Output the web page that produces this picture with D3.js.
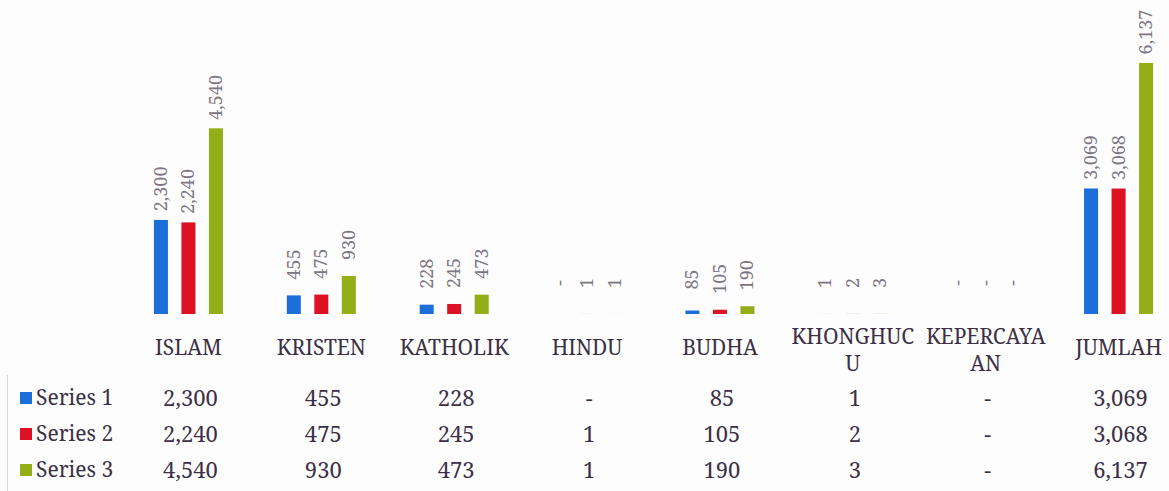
<!DOCTYPE html>
<html><head><meta charset="utf-8">
<script src="https://cdn.jsdelivr.net/npm/d3@7"></script>
<style>
html,body{margin:0;padding:0;background:#fdfdfd;}
svg{display:block;}
</style></head>
<body><svg id="c" width="1169" height="491"></svg>
<script>
const categories = ["ISLAM","KRISTEN","KATHOLIK","HINDU","BUDHA","KHONGHUCU","KEPERCAYAAN","JUMLAH"];
const categoryLines = [["ISLAM"],["KRISTEN"],["KATHOLIK"],["HINDU"],["BUDHA"],["KHONGHUC","U"],["KEPERCAYA","AN"],["JUMLAH"]];
const seriesNames = ["Series 1","Series 2","Series 3"];
const series1 = [2300,455,228,0,85,1,0,3069];
const series2 = [2240,475,245,1,105,2,0,3068];
const series3 = [4540,930,473,1,190,3,0,6137];
const seriesColors = ["#1c6fd8","#dc1224","#93ae17"];
const allSeries = [series1,series2,series3];

const svg = d3.select("#c");
const x = d3.scaleBand().domain(categories).range([122,1185]).paddingInner(0).paddingOuter(0);
const xs = d3.scaleBand().domain(seriesNames).range([-41.25,41.25]).paddingInner(0.49).paddingOuter(0.245);
const y = d3.scaleLinear().domain([0,6137]).range([314,63]);
const fmt = v => v===0 ? "-" : d3.format(",")(v);
const cx = c => x(c)+x.bandwidth()/2;

const serif = "Noto Serif";

// bars and labels
allSeries.forEach((vals,si)=>{
  const g = svg.append("g");
  g.selectAll("rect").data(categories).join("rect")
    .attr("x", c=>cx(c)+xs(seriesNames[si]))
    .attr("width", xs.bandwidth())
    .attr("y", (c,i)=>y(vals[i]))
    .attr("height", (c,i)=>y(0)-y(vals[i]))
    .attr("fill", seriesColors[si]);
  g.selectAll("text").data(categories).join("text")
    .attr("transform",(c,i)=>`translate(${cx(c)+xs(seriesNames[si])+xs.bandwidth()/2+6},${y(vals[i])-31}) rotate(-90)`)
    .attr("text-anchor","middle")
    .style("font-family",serif)
    .style("font-size","18px")
    .attr("fill","#7c7682")
    .text((c,i)=>fmt(vals[i]));
});

// category labels
const cl = svg.append("g");
categories.forEach((c,i)=>{
  const lines = categoryLines[i];
  const t = cl.append("text")
    .attr("x",cx(c)).attr("y", lines.length>1?344:355)
    .attr("text-anchor","middle")
    .style("font-family",serif).style("font-size","21px")
    .attr("fill","#3b3045");
  lines.forEach((l,j)=>t.append("tspan").attr("x",cx(c)).attr("dy", j===0?0:27).text(l));
});

// data table
svg.append("line").attr("x1",7.5).attr("x2",7.5).attr("y1",375).attr("y2",491)
  .attr("stroke","#d8d8dc").attr("stroke-width",1);
const rowsY = [398,434,470];
allSeries.forEach((vals,si)=>{
  const ry = rowsY[si];
  svg.append("rect").attr("x",20).attr("y",ry-6).attr("width",12).attr("height",12).attr("fill",seriesColors[si]);
  svg.append("text").attr("x",36).attr("y",ry+7)
    .style("font-family",serif).style("font-size","21px").attr("fill","#3b3045")
    .text(seriesNames[si]);
  svg.append("g").selectAll("text").data(categories).join("text")
    .attr("x",c=>cx(c)+2).attr("y",ry+8)
    .attr("text-anchor","middle")
    .style("font-family",serif).style("font-size","22px").attr("fill","#3b3045")
    .text((c,i)=>fmt(vals[i]));
});
</script></body></html>
